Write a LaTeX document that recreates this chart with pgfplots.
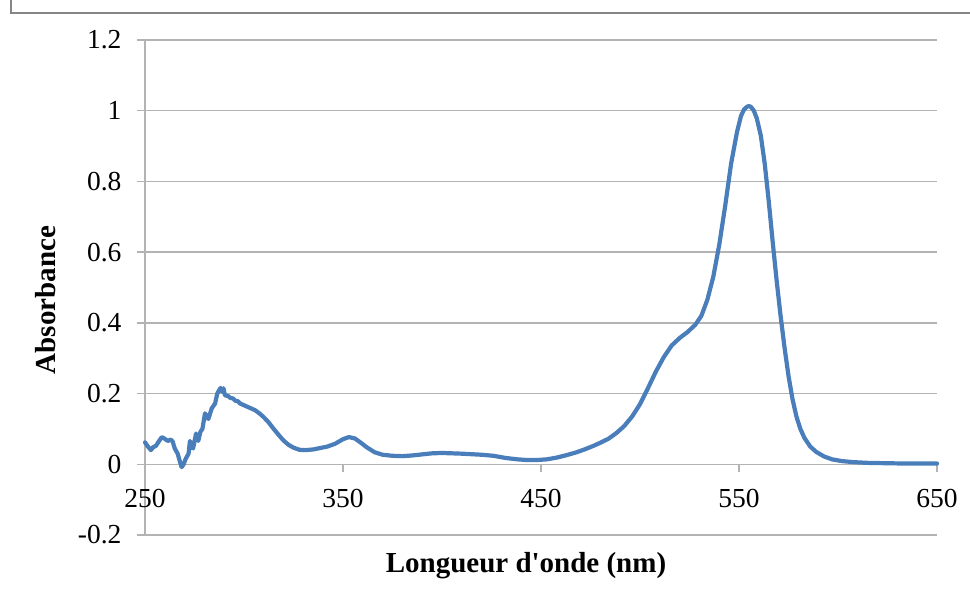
\documentclass[border=0pt]{standalone}
\usepackage{pgfplots}
\pgfplotsset{compat=1.18}
\usepackage{fontspec}
\setmainfont{Liberation Serif}
\definecolor{curve}{HTML}{4A7EBB}
\definecolor{gridc}{HTML}{B3B3B3}
\definecolor{framec}{HTML}{868686}
\begin{document}
\begin{tikzpicture}[x=1pt,y=1pt]
\useasboundingbox (0,0) rectangle (970,590);
\draw[framec,line width=2pt] (11,590) -- (11,577) -- (970,577);
\begin{axis}[
  at={(145pt,55pt)}, anchor=south west,
  scale only axis, width=792pt, height=495pt,
  xmin=250, xmax=650, ymin=-0.2, ymax=1.2,
  axis x line=middle, axis y line=left,
  axis line style={gridc,line width=1.3pt,-},
  hide obscured x ticks=false, hide obscured y ticks=false,
  xtick={250,350,450,550,650},
  ytick={-0.2,0,0.2,0.4,0.6,0.8,1,1.2},
  ymajorgrids, grid style={gridc,line width=1.3pt},
  tick align=outside, major tick length=8pt,
  tick style={gridc,line width=1.3pt},
  /pgf/number format/assume math mode=true,
  /pgf/number format/fixed,
  tick label style={font=\fontsize{27.5}{30}\selectfont},
  xticklabel style={anchor=north,yshift=-13pt},
  yticklabel style={anchor=east,xshift=-12pt},
  clip=false,
]
\addplot[curve,line width=4.2pt,line join=round,line cap=round] coordinates {
(250,0.062)(251.5,0.050)(253,0.040)(254,0.048)(255.5,0.052)(257,0.065)(258.5,0.077)(260,0.072)(261.5,0.066)(263,0.070)(264,0.064)(265,0.045)(266.5,0.030)(267.5,0.010)(268.5,-0.008)(269.5,0.000)(270.5,0.015)(272,0.030)(272.7,0.066)(273.5,0.048)(274.3,0.045)(275.8,0.087)(276.9,0.066)(278,0.092)(279,0.100)(280.3,0.144)(282,0.128)(283.7,0.158)(285.4,0.172)(286.5,0.200)(287.5,0.210)(288.2,0.216)(289,0.205)(289.6,0.215)(290.4,0.195)(292,0.193)(293,0.188)(294.5,0.186)(295.5,0.180)(297,0.178)(298,0.172)(300,0.167)(302,0.162)(305.6,0.153)(308,0.143)(310,0.133)(312.5,0.118)(315,0.100)(317.5,0.083)(320,0.067)(322.5,0.055)(325,0.047)(328,0.041)(331,0.040)(335,0.042)(338.5,0.046)(342,0.050)(346,0.058)(350,0.071)(353,0.077)(356,0.073)(359,0.061)(362,0.048)(366,0.034)(370,0.027)(375,0.024)(380,0.023)(385,0.025)(390,0.028)(395,0.031)(400,0.032)(410,0.030)(420,0.027)(426,0.024)(432,0.018)(438,0.014)(443,0.012)(448,0.012)(453,0.014)(458,0.019)(463,0.026)(468,0.034)(472,0.042)(476,0.051)(480,0.061)(484,0.072)(488,0.088)(492,0.108)(496,0.135)(500,0.170)(504,0.215)(508,0.262)(512,0.303)(516,0.336)(520,0.357)(524,0.374)(528,0.395)(531,0.420)(534,0.465)(537,0.530)(540,0.620)(543,0.730)(546,0.850)(549,0.940)(551,0.985)(552.5,1.003)(554,1.011)(555,1.013)(556,1.011)(557.5,1.000)(559,0.978)(561,0.930)(563,0.850)(565,0.745)(567,0.630)(569,0.520)(571,0.420)(573,0.330)(575,0.250)(577,0.185)(579,0.135)(581,0.100)(583,0.075)(586,0.050)(589,0.035)(593,0.022)(597,0.014)(602,0.009)(608,0.006)(615,0.004)(625,0.003)(635,0.002)(650,0.002)
};
\end{axis}
\node[font=\fontsize{29}{32}\selectfont\bfseries] at (526,24) {Longueur d\textquotesingle onde (nm)};
\node[font=\fontsize{29}{32}\selectfont\bfseries,rotate=90] at (46,290) {Absorbance};
\end{tikzpicture}
\end{document}
